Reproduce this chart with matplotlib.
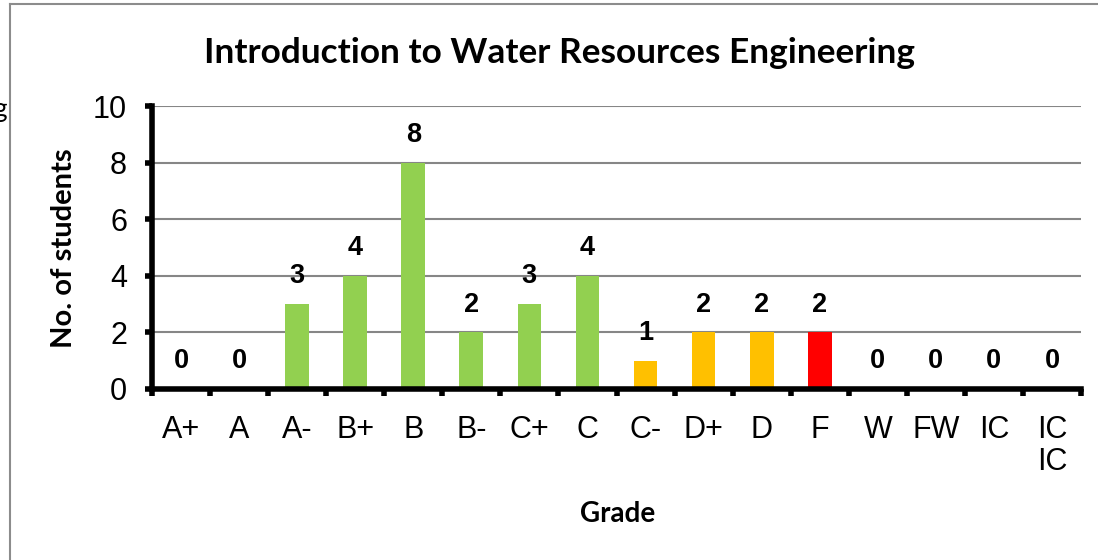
import matplotlib
matplotlib.use("Agg")
import matplotlib.pyplot as plt
from matplotlib.lines import Line2D

# grade distribution
grades = ["A+", "A", "A-", "B+", "B", "B-", "C+", "C", "C-", "D+", "D", "F",
          "W", "FW", "IC", "IC\nIC"]
students = [0, 0, 3, 4, 8, 2, 3, 4, 1, 2, 2, 2, 0, 0, 0, 0]
bar_colors = ["#92D050"] * 8 + ["#FFC000"] * 3 + ["#FF0000"] + ["#92D050"] * 4

W, H = 1098, 560
fig = plt.figure(figsize=(W / 100, H / 100), dpi=100)

# outer frame of the chart object (only left and top edges visible)
fig.add_artist(Line2D([9.5 / W, 9.5 / W], [0, 1 - 4 / H], color="#8c8c8c", lw=1.5))
fig.add_artist(Line2D([9.5 / W, 1], [1 - 4 / H, 1 - 4 / H], color="#8c8c8c", lw=1.5))
# clipped fragment of a neighbouring text at the left edge
fig.text(8 / W, 1 - 110 / H, "ng", ha="right", va="center", fontsize=19, family="Lato")

ax = fig.add_axes([152 / W, 1 - 389 / H, (1081 - 152) / W, (389 - 106) / H])

x = list(range(len(grades)))
ax.bar(x, students, width=0.41, color=bar_colors, zorder=3)

for xi, v in zip(x, students):
    ax.annotate(str(v), (xi, v), xytext=(0, 20), textcoords="offset points",
                ha="center", va="center", fontsize=19.5, fontweight="bold",
                family="Liberation Sans", zorder=4)

ax.set_xlim(-0.5, len(grades) - 0.5)
ax.set_ylim(0, 10)
ax.set_yticks(range(0, 11, 2))
ax.yaxis.grid(True, color="#868686", lw=1.5, zorder=0)

# tick marks at category boundaries, labels at category centres
ax.set_xticks([i - 0.5 for i in range(len(grades) + 1)])
ax.set_xticklabels([])
ax.set_xticks(x, minor=True)
ax.set_xticklabels(grades, minor=True, fontsize=22, family="Liberation Sans",
                   va="top", linespacing=1.05)
ax.tick_params(axis="x", which="minor", length=0, pad=19)
ax.tick_params(axis="x", which="major", length=5, width=4, direction="out")
ax.tick_params(axis="y", length=5, width=4, direction="out", pad=13)
for lab in ax.get_yticklabels():
    lab.set_fontsize(22)
    lab.set_family("Liberation Sans")

for side in ["top", "right"]:
    ax.spines[side].set_visible(False)
for side in ["left", "bottom"]:
    ax.spines[side].set_linewidth(4)
    ax.spines[side].set_zorder(5)

fig.text(560 / W, 1 - 53 / H, "Introduction to Water Resources Engineering",
         ha="center", va="center", fontsize=25.4, fontweight="bold", family="Lato")
fig.text(64 / W, 1 - 248 / H, "No. of students", ha="center", va="center",
         rotation=90, fontsize=21, fontweight="bold", family="Lato")
fig.text(618 / W, 1 - 514 / H, "Grade", ha="center", va="center",
         fontsize=20, fontweight="bold", family="Lato")

fig.savefig("out.png", dpi=100)
